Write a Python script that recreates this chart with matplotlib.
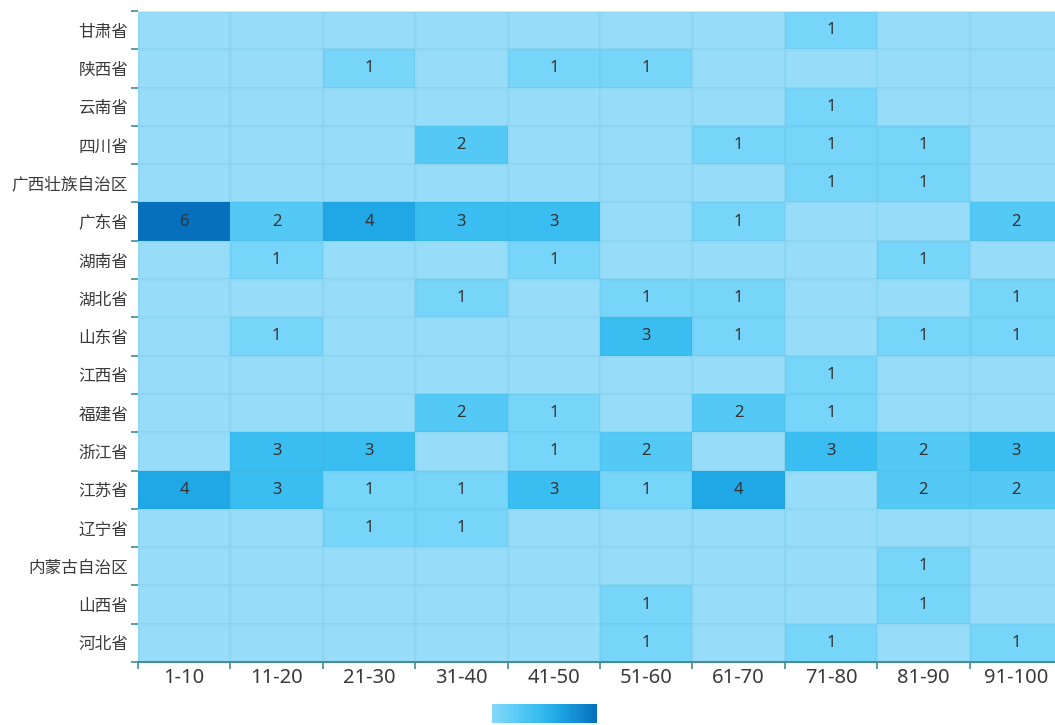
import numpy as np
import matplotlib
matplotlib.use("Agg")
import matplotlib.pyplot as plt
from matplotlib.colors import LinearSegmentedColormap

plt.rcParams['font.family'] = ['Noto Sans CJK SC', 'DejaVu Sans']

provinces = ["甘肃省", "陕西省", "云南省", "四川省", "广西壮族自治区", "广东省", "湖南省",
             "湖北省", "山东省", "江西省", "福建省", "浙江省", "江苏省", "辽宁省",
             "内蒙古自治区", "山西省", "河北省"]
bins = ["1-10", "11-20", "21-30", "31-40", "41-50", "51-60", "61-70", "71-80", "81-90", "91-100"]

counts = [
    [0, 0, 0, 0, 0, 0, 0, 1, 0, 0],  # 甘肃省
    [0, 0, 1, 0, 1, 1, 0, 0, 0, 0],  # 陕西省
    [0, 0, 0, 0, 0, 0, 0, 1, 0, 0],  # 云南省
    [0, 0, 0, 2, 0, 0, 1, 1, 1, 0],  # 四川省
    [0, 0, 0, 0, 0, 0, 0, 1, 1, 0],  # 广西壮族自治区
    [6, 2, 4, 3, 3, 0, 1, 0, 0, 2],  # 广东省
    [0, 1, 0, 0, 1, 0, 0, 0, 1, 0],  # 湖南省
    [0, 0, 0, 1, 0, 1, 1, 0, 0, 1],  # 湖北省
    [0, 1, 0, 0, 0, 3, 1, 0, 1, 1],  # 山东省
    [0, 0, 0, 0, 0, 0, 0, 1, 0, 0],  # 江西省
    [0, 0, 0, 2, 1, 0, 2, 1, 0, 0],  # 福建省
    [0, 3, 3, 0, 1, 2, 0, 3, 2, 3],  # 浙江省
    [4, 3, 1, 1, 3, 1, 4, 0, 2, 2],  # 江苏省
    [0, 0, 1, 1, 0, 0, 0, 0, 0, 0],  # 辽宁省
    [0, 0, 0, 0, 0, 0, 0, 0, 1, 0],  # 内蒙古自治区
    [0, 0, 0, 0, 0, 1, 0, 0, 1, 0],  # 山西省
    [0, 0, 0, 0, 0, 1, 0, 1, 0, 1],  # 河北省
]

vmax = 6
cmap = LinearSegmentedColormap.from_list(
    "blues",
    [(0 / 6, "#97DDFA"), (1 / 6, "#77D5FA"), (2 / 6, "#55C9F6"), (3 / 6, "#3ABEF1"),
     (4 / 6, "#1FA7E6"), (6 / 6, "#0670BD")])

data = np.array(counts, dtype=float)
nrows, ncols = data.shape

fig = plt.figure(figsize=(10.55, 7.25), dpi=100)
W, H = 1055, 725
left, right, top, bottom = 138, 1062, 11, 662
ax = fig.add_axes([left / W, 1 - bottom / H, (right - left) / W, (bottom - top) / H])

ax.pcolormesh(np.arange(ncols + 1), np.arange(nrows + 1), data, cmap=cmap,
              vmin=0, vmax=vmax, edgecolor=(0.25, 0.55, 0.65, 0.06), linewidth=0.8)
ax.set_xlim(0, ncols)
ax.set_ylim(nrows, 0)

for i in range(nrows):
    for j in range(ncols):
        v = counts[i][j]
        if v:
            ax.text(j + 0.5, i + 0.5, str(v), ha="center", va="center",
                    fontsize=12, color="#333333", family=["Noto Sans", "DejaVu Sans"])

axis_color = "#3f8c96"
for s in ["top", "right", "left"]:
    ax.spines[s].set_visible(False)
ax.spines["bottom"].set_color(axis_color)
ax.spines["bottom"].set_linewidth(1.4)
ax.axhline(0, color="#d8f1fc", linewidth=1.2)

ax.set_xticks(np.arange(ncols + 1))
ax.set_xticklabels([])
ax.set_yticks(np.arange(nrows + 1))
ax.set_yticklabels([])
ax.tick_params(which="major", length=5, width=1.2, color=axis_color)
ax.set_xticks(np.arange(ncols) + 0.5, minor=True)
ax.set_xticklabels(bins, minor=True, fontsize=14.5, color="#3a3a3a",
                   family=["Noto Sans", "DejaVu Sans"])
ax.set_yticks(np.arange(nrows) + 0.5, minor=True)
ax.set_yticklabels(provinces, minor=True, fontsize=12, color="#3a3a3a")
ax.tick_params(which="minor", length=0)
ax.tick_params(axis="x", which="minor", pad=4)
ax.tick_params(axis="y", which="minor", pad=7)

# small gradient legend
cax = fig.add_axes([492 / W, 1 - 723 / H, 105 / W, 19 / H])
grad = np.linspace(0.6, vmax, 256).reshape(1, -1)
cax.imshow(grad, aspect="auto", cmap=cmap, vmin=0, vmax=vmax)
cax.axis("off")

fig.savefig("out.png", dpi=100)
